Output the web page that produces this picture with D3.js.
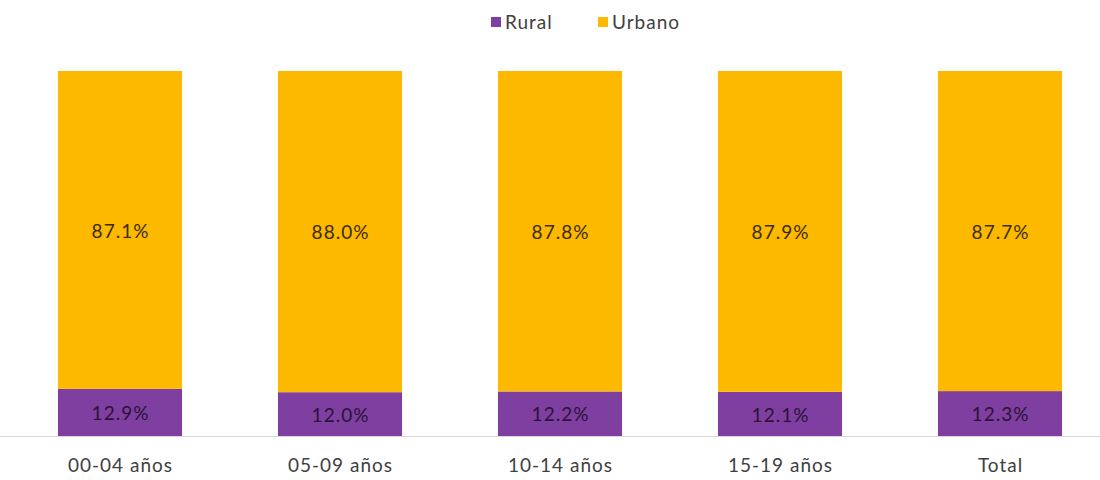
<!DOCTYPE html>
<html>
<head>
<meta charset="utf-8">
<script src="https://cdn.jsdelivr.net/npm/d3@7"></script>
<style>
  body { margin: 0; background: #fff; }
  svg { display: block; font-family: Lato, "Open Sans", sans-serif; }
</style>
</head>
<body>
<svg id="chart" width="1100" height="480"></svg>
<script>
const categories = ["00-04 años", "05-09 años", "10-14 años", "15-19 años", "Total"];
const rural = [12.9, 12.0, 12.2, 12.1, 12.3];
const urbano = [87.1, 88.0, 87.8, 87.9, 87.7];
const seriesNames = ["Rural", "Urbano"];
const colors = ["#7E3FA0", "#FDB900"];

const svg = d3.select("#chart");
const x = d3.scaleBand().domain(categories).range([10, 1110]).paddingInner(0.436).paddingOuter(0.218);
const y = d3.scaleLinear().domain([0, 100]).range([436, 71]);

const rows = categories.map((c, i) => ({ cat: c, Rural: rural[i], Urbano: urbano[i] }));
const stacked = d3.stack().keys(seriesNames)(rows);

const groups = svg.selectAll("g.series").data(stacked).enter().append("g")
  .attr("fill", (d, i) => colors[i]);

groups.selectAll("rect").data(d => d).enter().append("rect")
  .attr("x", d => x(d.data.cat))
  .attr("width", x.bandwidth())
  .attr("y", d => y(d[1]))
  .attr("height", d => y(d[0]) - y(d[1]));

// value labels
stacked.forEach((s, si) => {
  svg.append("g").selectAll("text").data(s).enter().append("text")
    .attr("x", d => x(d.data.cat) + x.bandwidth() / 2 + 0.5)
    .attr("y", d => (y(d[0]) + y(d[1])) / 2 + 1)
    .attr("dy", "0.35em")
    .attr("text-anchor", "middle")
    .attr("font-size", 19)
    .attr("letter-spacing", 1)
    .attr("fill", si === 0 ? "#2a1338" : "#3a2c05")
    .text(d => (d[1] - d[0]).toFixed(1) + "%");
});

// baseline axis
const axis = d3.axisBottom(x).tickSize(0).tickPadding(23);
const ax = svg.append("g").attr("transform", "translate(0,436)").call(axis);
ax.select(".domain").remove();
ax.selectAll("text").attr("font-size", 19).attr("letter-spacing", 1).attr("dx", 0.5)
  .attr("fill", "#404040").attr("font-family", "Lato, 'Open Sans', sans-serif");
svg.append("line").attr("x1", 0).attr("x2", 1100).attr("y1", 436.5).attr("y2", 436.5)
  .attr("stroke", "#d9d9d9").attr("stroke-width", 1);

// legend
const legend = svg.append("g");
const legendX = [491, 598];
seriesNames.forEach((n, i) => {
  const g = legend.append("g").attr("transform", `translate(${legendX[i]},17)`);
  g.append("rect").attr("width", 10).attr("height", 10).attr("fill", colors[i]);
  g.append("text").attr("x", 14).attr("y", 5).attr("dy", "0.35em")
    .attr("font-size", 19).attr("letter-spacing", 1).attr("fill", "#404040").text(n);
});
</script>
</body>
</html>
